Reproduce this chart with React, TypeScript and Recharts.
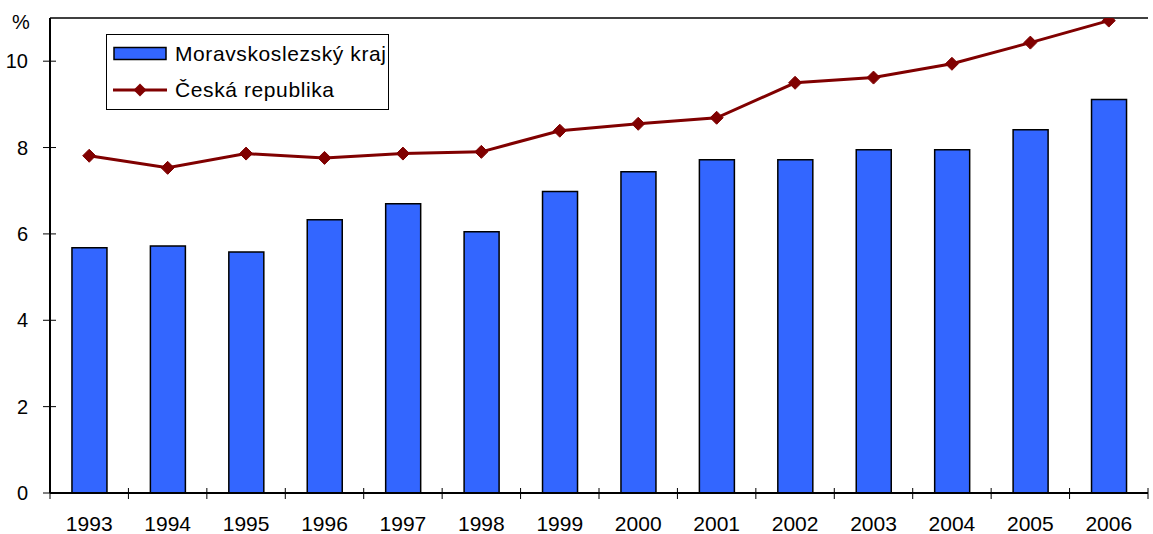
import { ComposedChart, Bar, Line, XAxis, YAxis, ReferenceLine } from "recharts";

const years = ["1993", "1994", "1995", "1996", "1997", "1998", "1999", "2000", "2001", "2002", "2003", "2004", "2005", "2006"];
const moravskoslezsky = [5.68, 5.72, 5.58, 6.33, 6.7, 6.05, 6.98, 7.44, 7.72, 7.72, 7.95, 7.95, 8.41, 9.11];
const ceskaRepublika = [7.81, 7.53, 7.86, 7.76, 7.86, 7.9, 8.39, 8.55, 8.69, 9.5, 9.62, 9.94, 10.43, 10.94];
const yTicks = [0, 2, 4, 6, 8, 10];

const data = years.map((y, i) => ({ year: y, msk: moravskoslezsky[i], cr: ceskaRepublika[i] }));

const W = 1153;
const H = 534;
const LEFT = 50;
const RIGHT = 5;
const X_AXIS_H = 41;
const AXIS_Y = H - X_AXIS_H;
const BAND = (W - LEFT - RIGHT) / years.length;
const FONT = "'Liberation Sans', Arial, sans-serif";
const BLUE = "#3366ff";
const RED = "#800000";

const YTick = (props: any) => {
  const { y, payload } = props;
  return (
    <g>
      <line x1={LEFT - 7} x2={LEFT + 6} y1={y} y2={y} stroke="#000" strokeWidth={1} />
      <text x={LEFT - 22} y={y} textAnchor="end" dominantBaseline="central" fontSize={20} fill="#000" fontFamily={FONT}>
        {payload.value}
      </text>
    </g>
  );
};

// ticks sit on category boundaries, crossing the axis line
const XTick = (props: any) => {
  const { x, payload, index } = props;
  const left = x - BAND / 2;
  return (
    <g>
      <line x1={left} x2={left} y1={AXIS_Y - 5} y2={AXIS_Y + 6} stroke="#000" strokeWidth={1} />
      {index === years.length - 1 && (
        <line x1={left + BAND} x2={left + BAND} y1={AXIS_Y - 5} y2={AXIS_Y + 6} stroke="#000" strokeWidth={1} />
      )}
      <text x={x} y={AXIS_Y + 30} textAnchor="middle" dominantBaseline="central" fontSize={21} fill="#000" fontFamily={FONT}>
        {payload.value}
      </text>
    </g>
  );
};

const Diamond = (props: any) => {
  const { cx, cy } = props;
  if (cx == null || cy == null) return null;
  const s = 6.5;
  return <polygon points={`${cx},${cy - s} ${cx + s},${cy} ${cx},${cy + s} ${cx - s},${cy}`} fill={RED} stroke={RED} />;
};

const LegendBox = () => (
  <div
    style={{
      position: "absolute",
      left: 106,
      top: 34,
      border: "1px solid #000",
      background: "#fff",
      width: 281,
      height: 74,
      fontFamily: FONT,
      fontSize: 21,
      letterSpacing: 0.6,
      color: "#000",
      boxSizing: "content-box",
    }}
  >
    <div style={{ display: "flex", alignItems: "center", height: 38, paddingLeft: 6 }}>
      <svg width={56} height={16} style={{ marginRight: 6 }}>
        <rect x={1} y={1.5} width={52} height={12} fill={BLUE} stroke="#000" strokeWidth={1.5} />
      </svg>
      <span>Moravskoslezský kraj</span>
    </div>
    <div style={{ display: "flex", alignItems: "center", height: 34, paddingLeft: 6 }}>
      <svg width={56} height={16} style={{ marginRight: 6 }}>
        <line x1={0} x2={54} y1={8} y2={8} stroke={RED} strokeWidth={3} />
        <polygon points="27,1.5 33.5,8 27,14.5 20.5,8" fill={RED} />
      </svg>
      <span>Česká republika</span>
    </div>
  </div>
);

export default function App() {
  return (
    <div style={{ position: "absolute", left: 0, top: 0, width: W, height: H, background: "#fff" }}>
      <ComposedChart
        width={W}
        height={H}
        data={data}
        margin={{ top: 18, right: RIGHT, left: 0, bottom: 0 }}
        barCategoryGap="28%"
      >
        <XAxis
          dataKey="year"
          height={X_AXIS_H}
          axisLine={{ stroke: "#000", strokeWidth: 2 }}
          tickLine={false}
          tick={<XTick />}
          interval={0}
        />
        <YAxis
          width={LEFT}
          domain={[0, 11]}
          ticks={yTicks}
          allowDataOverflow
          axisLine={{ stroke: "#000", strokeWidth: 2 }}
          tickLine={false}
          tick={<YTick />}
        />
        <ReferenceLine y={11} stroke="#000" strokeWidth={1.5} ifOverflow="extendDomain" />
        <Bar dataKey="msk" name="Moravskoslezský kraj" fill={BLUE} stroke="#000" strokeWidth={1.5} isAnimationActive={false} />
        <Line
          dataKey="cr"
          name="Česká republika"
          stroke={RED}
          strokeWidth={3}
          dot={<Diamond />}
          activeDot={false}
          isAnimationActive={false}
        />
      </ComposedChart>
      <div style={{ position: "absolute", left: 12, top: 11, fontFamily: FONT, fontSize: 20, color: "#000" }}>%</div>
      <LegendBox />
    </div>
  );
}
